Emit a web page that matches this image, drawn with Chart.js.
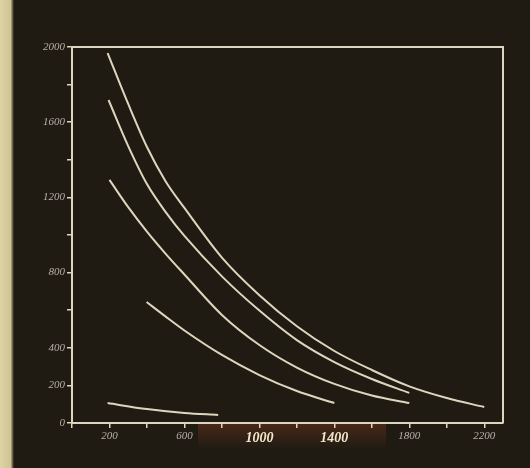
<!DOCTYPE html>
<html>
<head>
<meta charset="utf-8">
<script src="https://cdn.jsdelivr.net/npm/chart.js@4"></script>
<style>
  html, body { margin: 0; padding: 0; background: #1f1b12; }
  #wrap { width: 530px; height: 468px; }
</style>
</head>
<body>
<div id="wrap"><canvas id="chart" width="530" height="468"></canvas></div>
<script>
// curves, x / y pairs
const xA = [190, 300, 400, 500, 600, 800, 1000, 1200, 1400, 1600, 1800, 2000, 2200];
const yA = [1968, 1697, 1468, 1285, 1144, 880, 680, 515, 383, 282, 195, 133, 85];
const xB = [195, 300, 400, 500, 600, 800, 1000, 1200, 1400, 1600, 1800];
const yB = [1718, 1473, 1271, 1122, 995, 780, 598, 441, 324, 234, 160];
const xC = [200, 300, 400, 500, 600, 800, 1000, 1200, 1400, 1600, 1800];
const yC = [1293, 1148, 1018, 900, 790, 575, 415, 295, 208, 146, 106];
const xD = [398, 500, 600, 800, 1000, 1200, 1400];
const yD = [644, 566, 492, 362, 255, 170, 106];
const xE = [190, 400, 600, 780];
const yE = [106, 74, 53, 43];

const xTicks = [0, 200, 400, 600, 800, 1000, 1200, 1400, 1600, 1800, 2000, 2200];
const xLabels = [200, 600, 1000, 1400, 1800, 2200];
const yLabels = [0, 200, 400, 800, 1200, 1600, 2000];
const boldX = [1000, 1400];

const lineCol = "#ddd6bf";
const labelCol = "#b9b0ad";

function pts(xs, ys) {
  return xs.map((x, i) => ({ x: x, y: ys[i] }));
}

function curve(xs, ys) {
  return {
    data: pts(xs, ys),
    borderColor: lineCol,
    borderWidth: 2,
    pointRadius: 0,
    cubicInterpolationMode: "monotone",
    fill: false,
  };
}

function isBold(ctx) {
  return !!(ctx && ctx.tick && boldX.includes(ctx.tick.value));
}

const plateBg = {
  id: "plateBg",
  beforeDraw(chart) {
    const c = chart.ctx;
    c.save();
    c.fillStyle = "#1f1b12";
    c.fillRect(0, 0, chart.width, chart.height);
    const side = c.createLinearGradient(0, 0, 14, 0);
    side.addColorStop(0, "#ddd3a6");
    side.addColorStop(0.75, "#cfc493");
    side.addColorStop(1, "#1f1b12");
    c.fillStyle = side;
    c.fillRect(0, 0, 14, chart.height);
    // brownish stain under the axis
    const a = chart.chartArea;
    const g = c.createLinearGradient(0, a.bottom, 0, a.bottom + 26);
    g.addColorStop(0, "rgba(110,50,30,0.55)");
    g.addColorStop(1, "rgba(110,50,30,0)");
    c.fillStyle = g;
    c.fillRect(198, a.bottom + 1, 188, 26);
    c.restore();
  },
  afterDraw(chart) {
    const a = chart.chartArea;
    const c = chart.ctx;
    c.save();
    c.strokeStyle = lineCol;
    c.lineWidth = 2;
    c.beginPath();
    c.moveTo(a.left, a.top);
    c.lineTo(a.right, a.top);
    c.lineTo(a.right, a.bottom);
    c.stroke();
    c.restore();
  },
};

new Chart(document.getElementById("chart"), {
  type: "line",
  data: {
    datasets: [
      curve(xA, yA),
      curve(xB, yB),
      curve(xC, yC),
      curve(xD, yD),
      curve(xE, yE),
    ],
  },
  options: {
    responsive: false,
    animation: false,
    layout: { padding: { left: 0, top: 47, right: 27, bottom: 0 } },
    plugins: { legend: { display: false }, tooltip: { enabled: false } },
    scales: {
      x: {
        type: "linear",
        min: 0,
        max: 2300,
        afterFit(scale) { scale.height = 45; },
        afterBuildTicks(scale) { scale.ticks = xTicks.map((v) => ({ value: v })); },
        border: { display: true, color: lineCol, width: 2 },
        grid: { drawOnChartArea: false, drawTicks: true, tickLength: 5, color: lineCol, lineWidth: 1.5 },
        ticks: {
          autoSkip: false,
          maxRotation: 0,
          padding: 2,
          color: (ctx) => (isBold(ctx) ? "#f1e8cc" : labelCol),
          font: (ctx) => (isBold(ctx)
            ? { family: "Liberation Serif", size: 14, weight: "bold", style: "italic" }
            : { family: "Liberation Serif", size: 11, style: "italic" }),
          callback: (v) => (xLabels.includes(v) ? String(v) : ""),
        },
      },
      y: {
        min: 0,
        max: 2000,
        afterFit(scale) { scale.width = 72; },
        border: { display: true, color: lineCol, width: 2 },
        grid: { drawOnChartArea: false, drawTicks: true, tickLength: 5, color: lineCol, lineWidth: 1.5 },
        ticks: {
          stepSize: 200,
          autoSkip: false,
          padding: 2,
          color: labelCol,
          font: { family: "Liberation Serif", size: 11, style: "italic" },
          callback: (v) => (yLabels.includes(v) ? String(v) : ""),
        },
      },
    },
  },
  plugins: [plateBg],
});
</script>
</body>
</html>
